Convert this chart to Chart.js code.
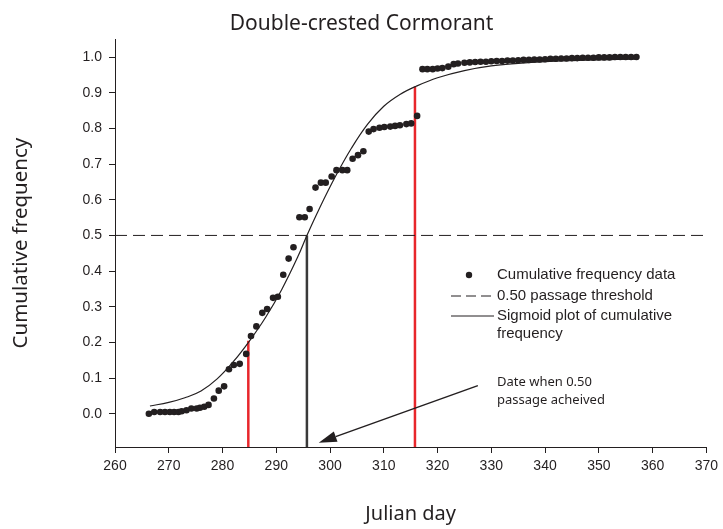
<!DOCTYPE html>
<html>
<head>
<meta charset="utf-8">
<style>
  html, body { margin: 0; padding: 0; background: #fff; }
</style>
</head>
<body>
<canvas id="birdChart" width="723" height="529"></canvas>
<script src="https://cdn.jsdelivr.net/npm/chart.js@4/dist/chart.umd.min.js"></script>
<script>
const chartTitle = 'Double-crested Cormorant';
const xTitle = 'Julian day';
const yTitle = 'Cumulative frequency';

// observed cumulative frequency (julian day, value)
const obsDays = [
    266.3, 267.3, 268.4, 269.3, 270.2, 271.0, 271.8, 272.4, 273.3, 274.2,
    275.2, 275.8, 276.6, 277.4, 278.4, 279.3, 280.3, 281.2, 282.1, 283.2,
    284.4, 285.3, 286.3, 287.4, 288.3, 289.4, 290.3, 291.3, 292.3, 293.2,
    294.3, 295.3, 296.2, 297.3, 298.3, 299.2, 300.3, 301.2, 302.3, 303.2,
    304.2, 305.2, 306.2, 307.2, 308.1, 309.2, 310.1, 311.2, 312.1, 313.0,
    314.2, 315.1, 316.2, 317.2, 318.1, 319.1, 320.0, 320.9, 322.0, 323.0,
    323.8, 325, 326, 327, 328, 329, 330, 331, 332, 333,
    334, 335, 336, 337, 338, 339, 340, 341, 342, 343,
    344, 345, 346, 347, 348, 349, 350, 351, 352, 353,
    354, 355, 356, 357
];
const obsValues = [
    0.0, 0.005, 0.005, 0.005, 0.005, 0.005, 0.005, 0.007, 0.01, 0.015,
    0.015, 0.017, 0.02, 0.025, 0.043, 0.065, 0.077, 0.125, 0.137, 0.14,
    0.168, 0.218, 0.245, 0.283, 0.294, 0.325, 0.328, 0.39, 0.435, 0.467,
    0.551, 0.551, 0.574, 0.634, 0.648, 0.648, 0.665, 0.683, 0.683, 0.683,
    0.715, 0.725, 0.736, 0.791, 0.798, 0.802, 0.804, 0.805, 0.807, 0.809,
    0.812, 0.814, 0.835, 0.966, 0.966, 0.966, 0.968, 0.969, 0.973, 0.98,
    0.982, 0.984, 0.985, 0.986, 0.987, 0.987, 0.988, 0.989, 0.989, 0.99,
    0.99, 0.991, 0.992, 0.992, 0.993, 0.993, 0.994, 0.995, 0.995, 0.996,
    0.996, 0.997, 0.997, 0.998, 0.998, 0.998, 0.999, 0.999, 0.999, 1.0,
    1.0, 1.0, 1.0, 1.0
];

// fitted sigmoid
const sigDays = [266.5, 270, 273, 276, 279, 282, 285, 288, 291, 294, 295.7, 298, 301,
    304, 307, 310, 313, 316, 320, 325, 330, 335, 340, 345, 350, 357];
const sigValues = [0.022, 0.032, 0.045, 0.064, 0.098, 0.146, 0.204, 0.27, 0.348, 0.44, 0.5, 0.575, 0.665,
    0.745, 0.812, 0.862, 0.895, 0.918, 0.942, 0.962, 0.975, 0.982, 0.987, 0.99, 0.992, 0.994];

const thresholdDays = [260, 370];
const thresholdValue = 0.5;

// vertical markers
const markerDays = [284.8, 295.7, 315.8];
const markerValues = [0.205, 0.5, 0.917];
const markerColors = ['#e8262b', '#3a3a3a', '#e8262b'];

const xMin = 260;
const xMax = 370;
const xStep = 10;
const yMin = -0.093;
const yMax = 1.05;
const yStep = 0.1;

const legendLabels = ['Cumulative frequency data', '0.50 passage threshold', 'Sigmoid plot of cumulative', 'frequency'];
const noteLines = ['Date when 0.50', 'passage acheived'];
const arrowFrom = { x: 327.5, y: 0.079 };
const arrowTo = { x: 297.9, y: -0.081 };

const ink = '#231f20';

const datasets = [];

datasets.push({
    label: 'data',
    data: obsDays.map((d, i) => ({ x: d, y: obsValues[i] })),
    backgroundColor: ink,
    borderColor: ink,
    pointRadius: 3.3,
    pointBorderWidth: 0,
    showLine: false
});

datasets.push({
    label: 'threshold',
    data: thresholdDays.map(d => ({ x: d, y: thresholdValue })),
    borderColor: ink,
    borderWidth: 1,
    borderDash: [12, 6],
    pointRadius: 0,
    showLine: true
});

datasets.push({
    label: 'sigmoid',
    data: sigDays.map((d, i) => ({ x: d, y: sigValues[i] })),
    borderColor: ink,
    borderWidth: 1.2,
    tension: 0.4,
    pointRadius: 0,
    showLine: true
});

for (let i = 0; i < markerDays.length; i++) {
    datasets.push({
        label: 'marker' + i,
        data: [{ x: markerDays[i], y: yMin }, { x: markerDays[i], y: markerValues[i] }],
        borderColor: markerColors[i],
        borderWidth: 2.5,
        pointRadius: 0,
        showLine: true
    });
}

const extras = {
    id: 'extras',
    afterDraw(chart) {
        const ctx = chart.ctx;
        const sx = chart.scales.x;
        const sy = chart.scales.y;
        ctx.save();
        ctx.fillStyle = ink;
        ctx.strokeStyle = ink;

        // legend
        const lx = 451;
        const tx = 497;
        const rows = [275, 296, 316, 334];
        ctx.beginPath();
        ctx.arc(469, rows[0], 3.2, 0, Math.PI * 2);
        ctx.fill();
        ctx.lineWidth = 1;
        ctx.setLineDash([10, 5]);
        ctx.beginPath();
        ctx.moveTo(lx, rows[1]);
        ctx.lineTo(lx + 43, rows[1]);
        ctx.stroke();
        ctx.setLineDash([]);
        ctx.beginPath();
        ctx.moveTo(lx, rows[2]);
        ctx.lineTo(lx + 43, rows[2]);
        ctx.stroke();
        ctx.font = '15px "Liberation Sans", Arial, sans-serif';
        ctx.textBaseline = 'middle';
        for (let i = 0; i < legendLabels.length; i++) {
            ctx.fillText(legendLabels[i], tx, rows[i]);
        }

        // note and arrow
        ctx.font = '13px "Noto Sans", sans-serif';
        ctx.fillText(noteLines[0], tx, 382);
        ctx.fillText(noteLines[1], tx, 400);

        const x1 = sx.getPixelForValue(arrowFrom.x);
        const y1 = sy.getPixelForValue(arrowFrom.y);
        const x2 = sx.getPixelForValue(arrowTo.x);
        const y2 = sy.getPixelForValue(arrowTo.y);
        const ang = Math.atan2(y2 - y1, x2 - x1);
        const headLen = 18;
        const headW = 5.5;
        const bx = x2 - headLen * Math.cos(ang);
        const by = y2 - headLen * Math.sin(ang);
        ctx.lineWidth = 1.5;
        ctx.beginPath();
        ctx.moveTo(x1, y1);
        ctx.lineTo(bx, by);
        ctx.stroke();
        ctx.beginPath();
        ctx.moveTo(x2, y2);
        ctx.lineTo(bx + headW * Math.sin(ang), by - headW * Math.cos(ang));
        ctx.lineTo(bx - headW * Math.sin(ang), by + headW * Math.cos(ang));
        ctx.closePath();
        ctx.fill();
        ctx.restore();
    }
};

const ctx = document.getElementById('birdChart').getContext('2d');
//eslint-disable-next-line no-undef
new Chart(ctx, {
    type: 'scatter',
    data: { datasets: datasets },
    plugins: [extras],
    options: {
        responsive: false,
        animation: false,
        devicePixelRatio: 1,
        layout: { padding: 0 },
        plugins: {
            legend: { display: false },
            tooltip: { enabled: false },
            title: {
                display: true,
                text: chartTitle,
                color: ink,
                font: { family: '"Noto Sans", sans-serif', size: 21, weight: 'normal' },
                padding: { top: 11, bottom: 3 }
            }
        },
        scales: {
            x: {
                type: 'linear',
                min: xMin,
                max: xMax,
                afterFit: (scale) => { scale.height = 82; },
                ticks: {
                    stepSize: xStep,
                    color: ink,
                    padding: 5,
                    maxRotation: 0,
                    font: { family: '"Liberation Sans", Arial, sans-serif', size: 14 }
                },
                grid: { drawOnChartArea: false, tickLength: 6, color: ink },
                border: { color: ink, width: 1 },
                title: {
                    display: true,
                    text: xTitle,
                    color: ink,
                    font: { family: '"Noto Sans", sans-serif', size: 20 },
                    padding: { top: 0, bottom: 3 }
                }
            },
            y: {
                type: 'linear',
                min: yMin,
                max: yMax,
                afterFit: (scale) => { scale.width = 115; },
                ticks: {
                    stepSize: yStep,
                    includeBounds: false,
                    color: ink,
                    padding: 7,
                    font: { family: '"Liberation Sans", Arial, sans-serif', size: 14 },
                    callback: (v) => v.toFixed(1)
                },
                grid: { drawOnChartArea: false, tickLength: 6, color: ink },
                border: { color: ink, width: 1 },
                title: {
                    display: true,
                    text: yTitle,
                    color: ink,
                    font: { family: '"Noto Sans", sans-serif', size: 20.5 },
                    padding: { top: 9, bottom: 0 }
                }
            },
            // empty right-hand spacer so the plot ends where the original does
            spacer: {
                type: 'linear',
                position: 'right',
                min: yMin,
                max: yMax,
                afterFit: (scale) => { scale.width = 15; },
                ticks: { display: false },
                grid: { display: false },
                border: { display: false }
            }
        }
    }
});
</script>
</body>
</html>
